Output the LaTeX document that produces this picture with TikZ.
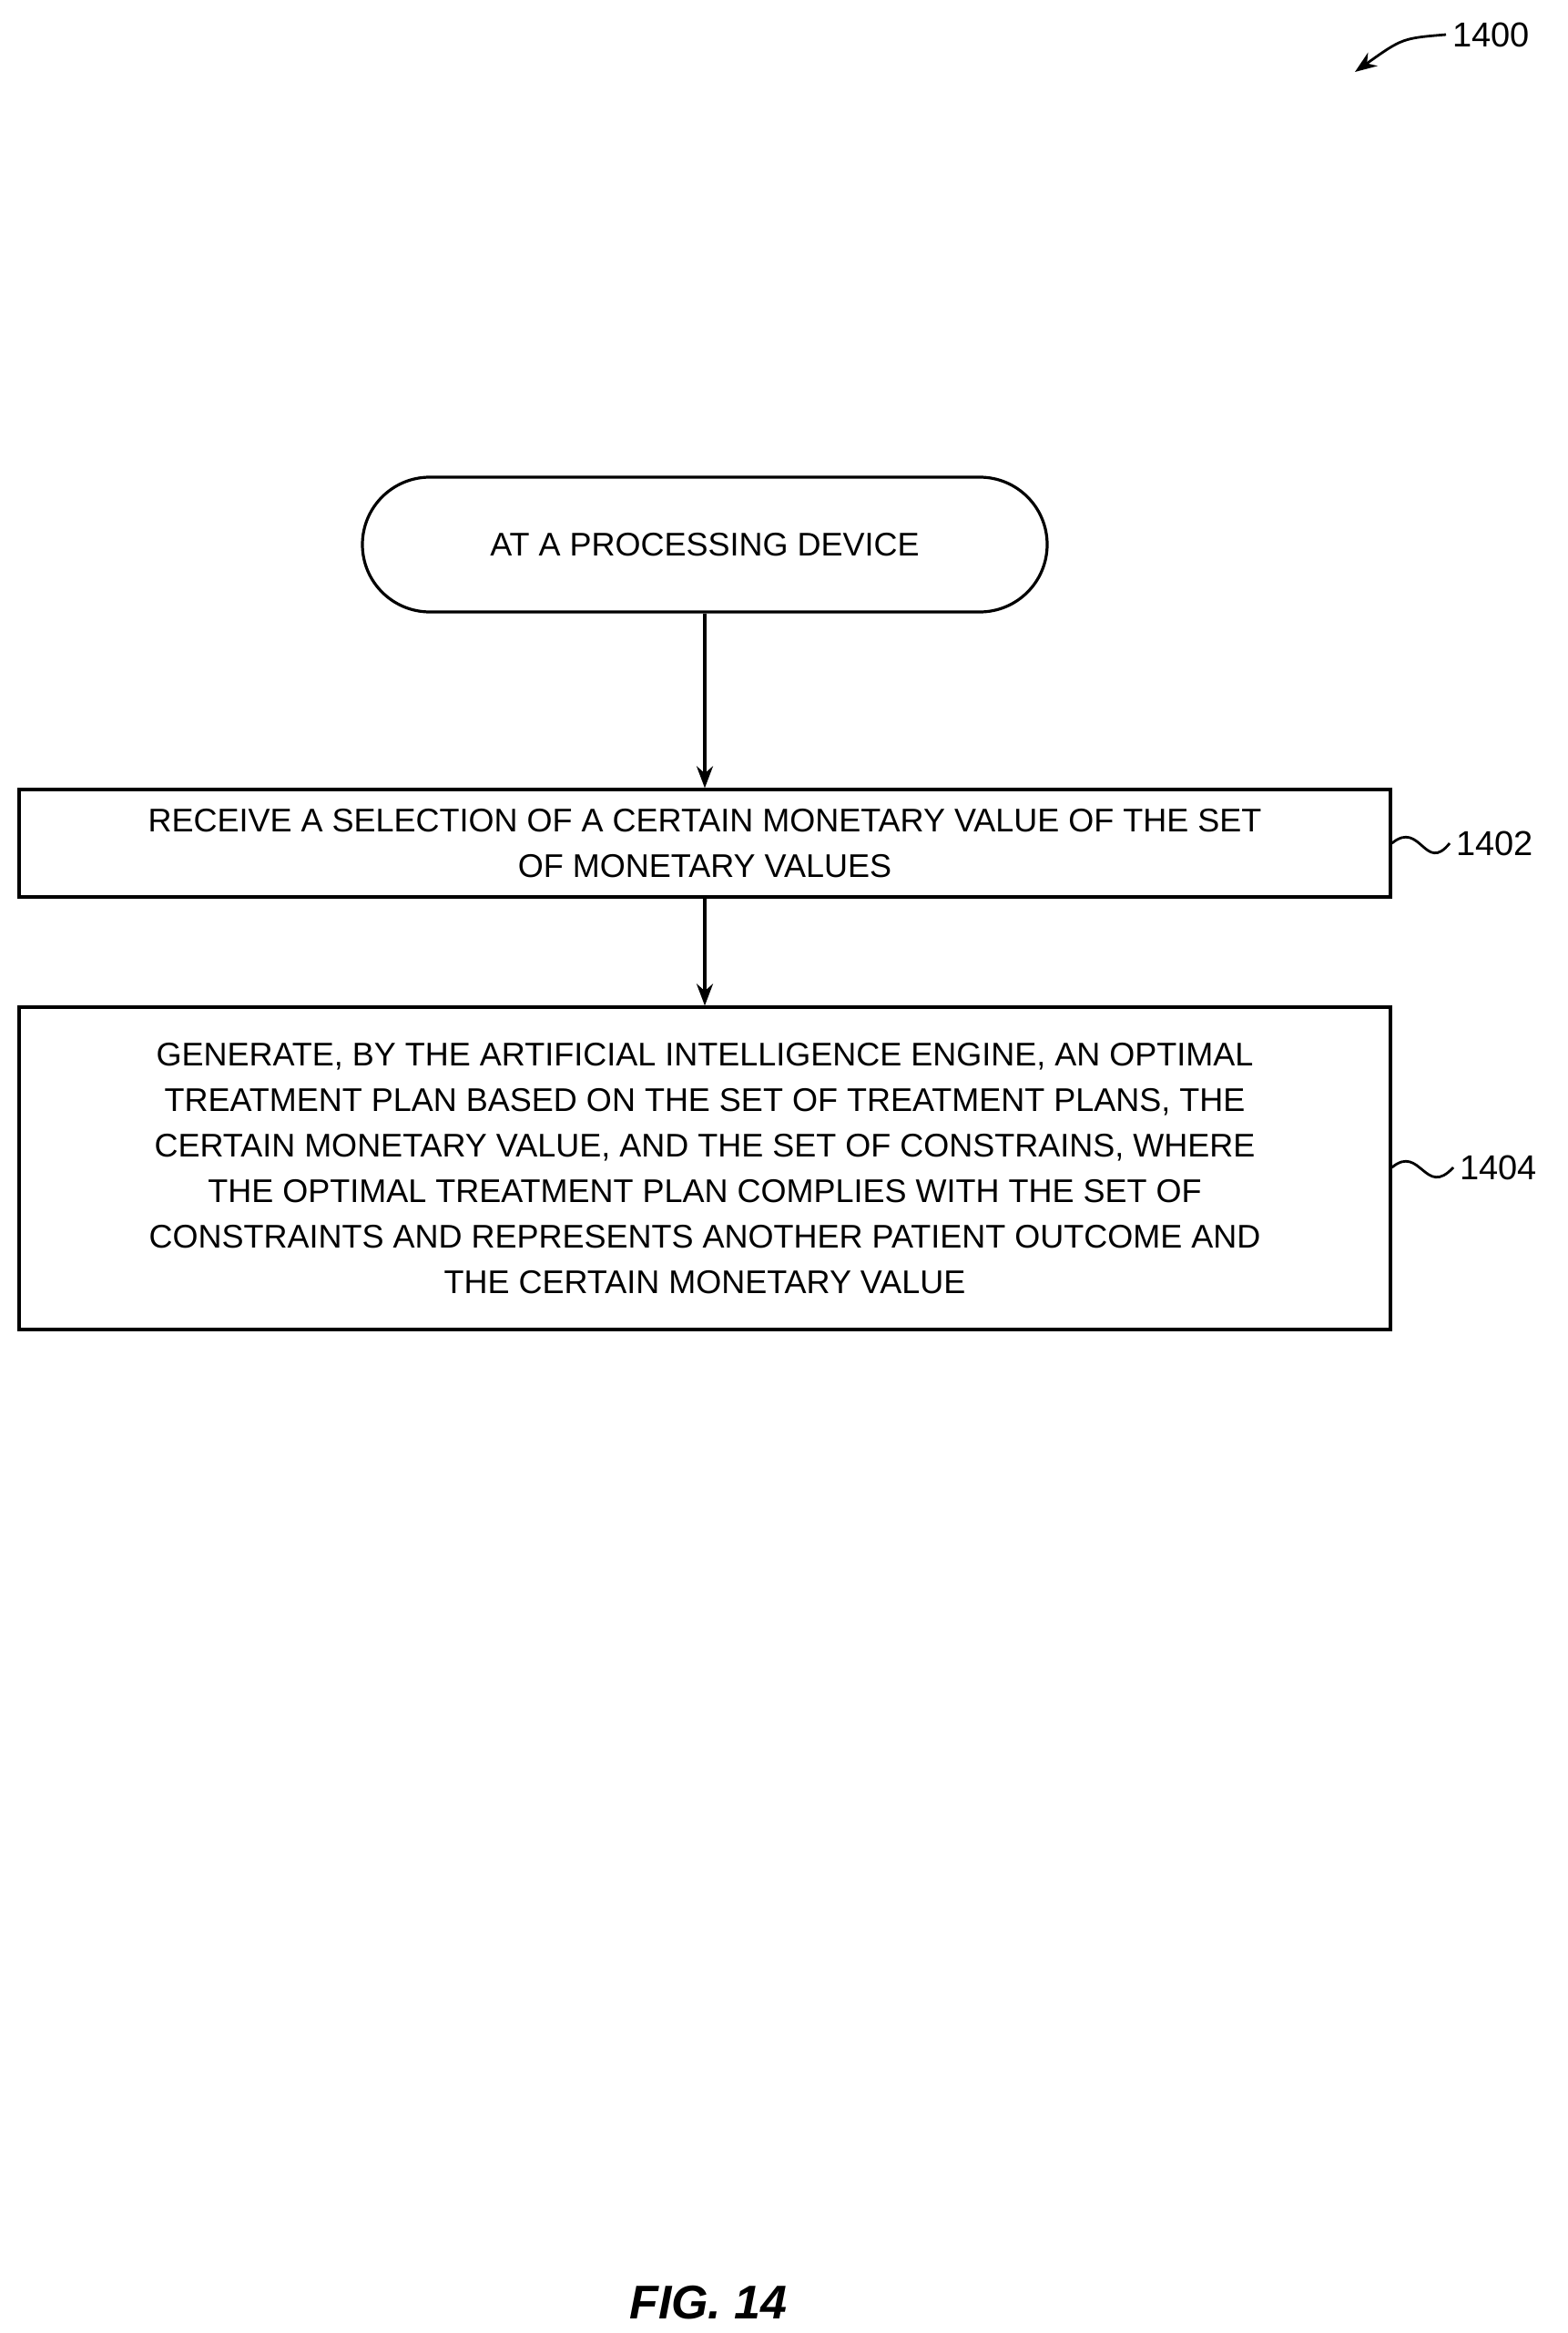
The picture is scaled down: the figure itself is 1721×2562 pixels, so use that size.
\documentclass[tikz,border=0pt]{standalone}
\usepackage{fontspec}
\setmainfont{Liberation Sans}
\usetikzlibrary{arrows.meta}
\begin{document}
\begin{tikzpicture}[x=0.5pt,y=-0.5pt,
  txt/.style={font=\fontsize{18}{25}\selectfont,align=center},
  box/.style={draw,line width=1.6pt,txt,inner sep=0pt},
  arr/.style={-{Stealth[length=12pt,width=9pt]},line width=1.6pt},
  lbl/.style={font=\fontsize{19}{23}\selectfont}]
\useasboundingbox (0,0) rectangle (1721,2562);
\node[box,rounded corners=74\pgflinewidth*0+37pt,minimum width=376pt,minimum height=74pt] (start) at (774,598) {AT A PROCESSING DEVICE};
\node[box,minimum width=753pt,minimum height=59pt] (b1) at (774,926) {RECEIVE A SELECTION OF A CERTAIN MONETARY VALUE OF THE SET\\OF MONETARY VALUES};
\node[box,minimum width=753pt,minimum height=177pt] (b2) at (774,1283) {GENERATE, BY THE ARTIFICIAL INTELLIGENCE ENGINE, AN OPTIMAL\\TREATMENT PLAN BASED ON THE SET OF TREATMENT PLANS, THE\\CERTAIN MONETARY VALUE, AND THE SET OF CONSTRAINS, WHERE\\THE OPTIMAL TREATMENT PLAN COMPLIES WITH THE SET OF\\CONSTRAINTS AND REPRESENTS ANOTHER PATIENT OUTCOME AND\\THE CERTAIN MONETARY VALUE};
\draw[arr] (start) -- (b1);
\draw[arr] (b1) -- (b2);
\node[lbl,anchor=west] (l1402) at (1592,926) {1402};
\node[lbl,anchor=west] (l1404) at (1596,1282) {1404};
\draw[line width=1.4pt] (b1.east) .. controls (1560,900) and (1565,960) .. (l1402.west);
\draw[line width=1.4pt] (b2.east|-l1404) .. controls (1560,1256) and (1565,1316) .. (l1404.west);
\node[lbl,anchor=west] (l1400) at (1588,38) {1400};
\coordinate (t1400) at (1488,79);
\draw[arr,line width=1.4pt] (l1400.west) .. controls (1540,42) .. (t1400);
\node[font=\fontsize{26}{30}\selectfont\bfseries\itshape] (fig) at (778,2529) {FIG. 14};
\end{tikzpicture}
\end{document}
